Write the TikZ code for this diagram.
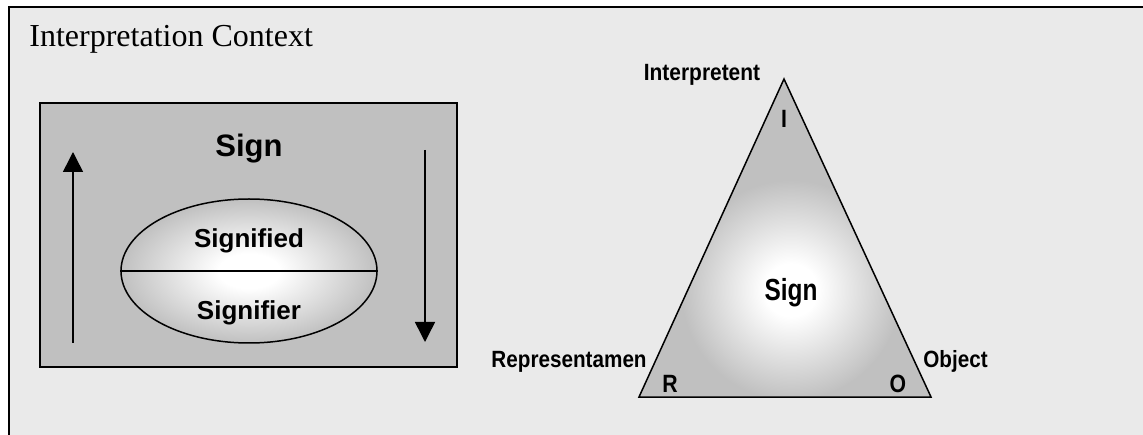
\documentclass[tikz,border=0pt]{standalone}
\usepackage{fontspec}
\setmainfont{Liberation Serif}
\newfontfamily\arialfont{Liberation Sans}
\usetikzlibrary{arrows.meta,shapes.geometric}
\definecolor{ctxgray}{RGB}{234,234,234}
\definecolor{signgray}{RGB}{192,192,192}
\pgfdeclareradialshading{glow}{\pgfpoint{0bp}{0bp}}{color(0bp)=(white); color(6bp)=(white); color(25bp)=(signgray); color(50bp)=(signgray)}

\begin{document}
\begin{tikzpicture}[x=1pt, y=-1pt, thick,
lbl/.style={font=\arialfont\bfseries\fontsize{#1}{#1}\selectfont, inner sep=0pt},
flow/.style={line width=1.5pt, -{Triangle[length=20pt,width=20pt]}},
oval/.style={ellipse, draw, line width=1.5pt, shading=glow, minimum width=256pt, minimum height=144pt, inner sep=0pt}
]
\useasboundingbox (0,0) rectangle (1143,435);
\clip (0,0) rectangle (1143,435);
% context frame
\filldraw[fill=ctxgray, line width=2.5pt] (9,7) rectangle (1170,460);
\node[anchor=base west, inner sep=0pt, font=\fontsize{32}{32}\selectfont] (ctx) at (29,47) {Interpretation Context};

% Saussure: sign box
\filldraw[fill=signgray, line width=2pt] (40,103) rectangle (457,367);
\node[lbl=31, anchor=base] (signL) at (249,157) {Sign};
\node[oval] (sigoval) at (249,271) {};
\draw[line width=1.5pt] (sigoval.west) -- (sigoval.east);
\node[lbl=26, anchor=base] (signified) at (249,248) {Signified};
\node[lbl=26, anchor=base] (signifier) at (249,320) {Signifier};
\coordinate (upfoot) at (73,343);
\coordinate (uptip) at (73,152);
\coordinate (downfoot) at (425,150);
\coordinate (downtip) at (425,342);
\draw[flow] (upfoot) -- (uptip);
\draw[flow] (downfoot) -- (downtip);

% Peirce: triangle
\coordinate (cornerI) at (784,79);
\coordinate (cornerR) at (639,397);
\coordinate (cornerO) at (931,397);
\fill[signgray] (cornerI) -- (cornerR) -- (cornerO) -- cycle;
\begin{scope}
\clip (cornerI) -- (cornerR) -- (cornerO) -- cycle;
\shade[shading=glow] (791,290) circle (110);
\end{scope}
\draw[line width=1.5pt] (cornerI) -- (cornerR) -- (cornerO) -- cycle;
\node[lbl=30.5, xscale=0.8, anchor=base] (signR) at (791,301) {Sign};
\node[lbl=23.5, xscale=0.89, anchor=base] (interp) at (702,81) {Interpretent};
\node[lbl=23.5, xscale=0.88, anchor=base east] (repr) at (647,368) {Representamen};
\node[lbl=23.5, xscale=0.88, anchor=base west] (obj) at (923,368) {Object};
\node[lbl=25, xscale=0.85, anchor=base] (letI) at (784,128) {I};
\node[lbl=25, xscale=0.85, anchor=base] (letR) at (670,392) {R};
\node[lbl=25, xscale=0.85, anchor=base] (letO) at (898,392) {O};
\end{tikzpicture}
\end{document}
